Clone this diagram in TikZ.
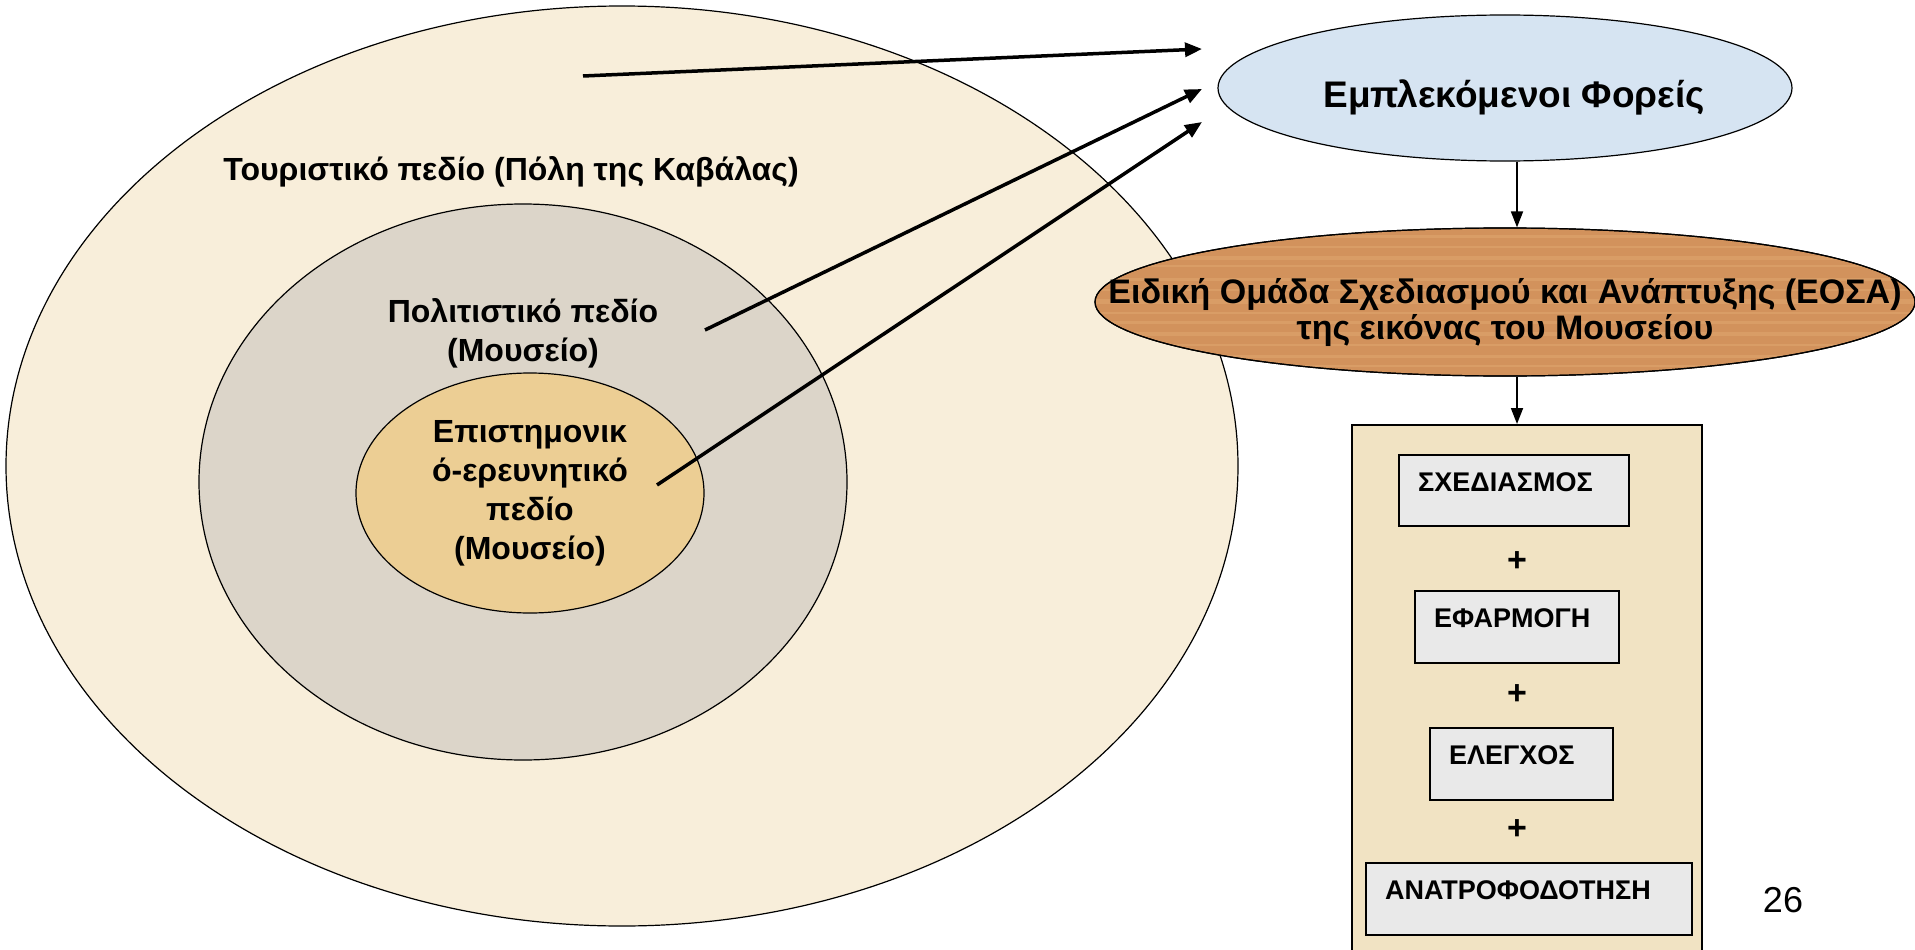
\documentclass[tikz,border=0pt]{standalone}
\usepackage{fontspec}
\setmainfont{Liberation Sans}
\usetikzlibrary{shapes.geometric,arrows.meta,calc}
\definecolor{outerc}{RGB}{248,238,218}
\definecolor{midc}{RGB}{220,213,201}
\definecolor{innerc}{RGB}{236,206,148}
\definecolor{bluec}{RGB}{214,228,242}
\definecolor{woodc}{RGB}{210,146,92}
\definecolor{grainc}{RGB}{236,184,128}
\definecolor{papyc}{RGB}{241,227,195}
\definecolor{boxc}{RGB}{233,233,233}
\tikzset{
  ring/.style={ellipse, draw=black, line width=1.2pt, inner sep=0pt},
  lbl/.style={font=\fontsize{32}{39}\selectfont\bfseries, align=center, inner sep=0pt},
  boxlbl/.style={font=\fontsize{27}{30}\selectfont\bfseries, anchor=west, inner sep=0pt},
  stepbox/.style={rectangle, draw=black, line width=1.5pt, fill=boxc, inner sep=0pt},
  bigarr/.style={line width=3.5pt, -{Triangle[length=17pt,width=14pt]}},
  downarr/.style={line width=1.8pt, -{Triangle[length=16pt,width=12pt]}},
  plus/.style={font=\fontsize{34}{34}\selectfont\bfseries, inner sep=0pt},
  grain/.style={draw=grainc, opacity=0.3}
}
\begin{document}
\begin{tikzpicture}[x=1pt,y=-1pt]
\useasboundingbox (0,0) rectangle (1915,950);
\fill[white] (0,0) rectangle (1915,950);

% concentric fields
\node[ring, fill=outerc, minimum width=1232pt, minimum height=920pt] (outer) at (622,466) {};
\node[ring, fill=midc, minimum width=648pt, minimum height=556pt] (middle) at (523,482) {};
\node[ring, fill=innerc, minimum width=348pt, minimum height=240pt] (inner) at (530,493) {};

\node[lbl] (t1) at (511,172) {Τουριστικό πεδίο (Πόλη της Καβάλας)};
\node[lbl] (t2) at (523,333) {Πολιτιστικό πεδίο\\(Μουσείο)};
\node[lbl] (t3) at (530,493) {Επιστημονικ\\ό-ερευνητικό\\πεδίο\\(Μουσείο)};

% right column
\node[ring, fill=bluec, minimum width=574pt, minimum height=146pt] (foreis) at (1505,88) {};
\node[font=\fontsize{37}{40}\selectfont\bfseries, inner sep=0pt] (foreist) at (1514,97) {Εμπλεκόμενοι Φορείς};
\node[ring, fill=woodc, minimum width=820pt, minimum height=148pt] (eosa) at (1505,302) {};
\begin{scope}
  \path[clip] (eosa.center) ellipse [x radius=409pt, y radius=73pt];
  \foreach \yy/\ww in {236/3,247/2,258/4,266/2,279/3,290/2,301/5,313/2,322/3,334/4,345/2,356/3,366/2}
    \draw[grain, line width=\ww pt] (1090,\yy) -- (1920,\yy);
\end{scope}
\draw[line width=1.2pt] (eosa.center) ellipse [x radius=410pt, y radius=74pt];
\node[font=\fontsize{34}{36}\selectfont\bfseries, align=center, inner sep=0pt] (eosat) at (1505,312) {Ειδική Ομάδα Σχεδιασμού και Ανάπτυξης (ΕΟΣΑ)\\της εικόνας του Μουσείου};
\node[rectangle, draw=black, line width=1.5pt, fill=papyc, minimum width=350pt, minimum height=560pt, inner sep=0pt, anchor=north west] (proc) at (1351,424) {};

\node[stepbox, minimum width=230pt, minimum height=71pt, anchor=north west] (b1) at (1398,454) {};
\node[stepbox, minimum width=204pt, minimum height=72pt, anchor=north west] (b2) at (1414,590) {};
\node[stepbox, minimum width=183pt, minimum height=72pt, anchor=north west] (b3) at (1429,727) {};
\node[stepbox, minimum width=326pt, minimum height=72pt, anchor=north west] (b4) at (1365,862) {};

\node[boxlbl] (l1) at ($(b1.north west)+(20,28)$) {ΣΧΕΔΙΑΣΜΟΣ};
\node[boxlbl] (l2) at ($(b2.north west)+(20,28)$) {ΕΦΑΡΜΟΓΗ};
\node[boxlbl] (l3) at ($(b3.north west)+(20,28)$) {ΕΛΕΓΧΟΣ};
\node[boxlbl] (l4) at ($(b4.north west)+(20,28)$) {ΑΝΑΤΡΟΦΟΔΟΤΗΣΗ};

\node[plus] (p1) at (1517,562) {+};
\node[plus] (p2) at (1517,695) {+};
\node[plus] (p3) at (1517,830) {+};

\node[font=\fontsize{36}{40}\selectfont, inner sep=0pt] (num) at (1783,900) {26};

% connectors
\coordinate (s1) at (583,76);
\coordinate (s2) at (705,330);
\coordinate (s3) at (657,485);
\coordinate (e1) at (1202,49);
\coordinate (e2) at (1202,89);
\coordinate (e3) at (1202,122);
\draw[bigarr] (s1) -- (e1);
\draw[bigarr] (s2) -- (e2);
\draw[bigarr] (s3) -- (e3);

\coordinate (ax) at (1517,0);
\draw[downarr] (foreis.south -| ax) -- (eosa.north -| ax);
\draw[downarr] (eosa.south -| ax) -- (proc.north -| ax);
\end{tikzpicture}
\end{document}
